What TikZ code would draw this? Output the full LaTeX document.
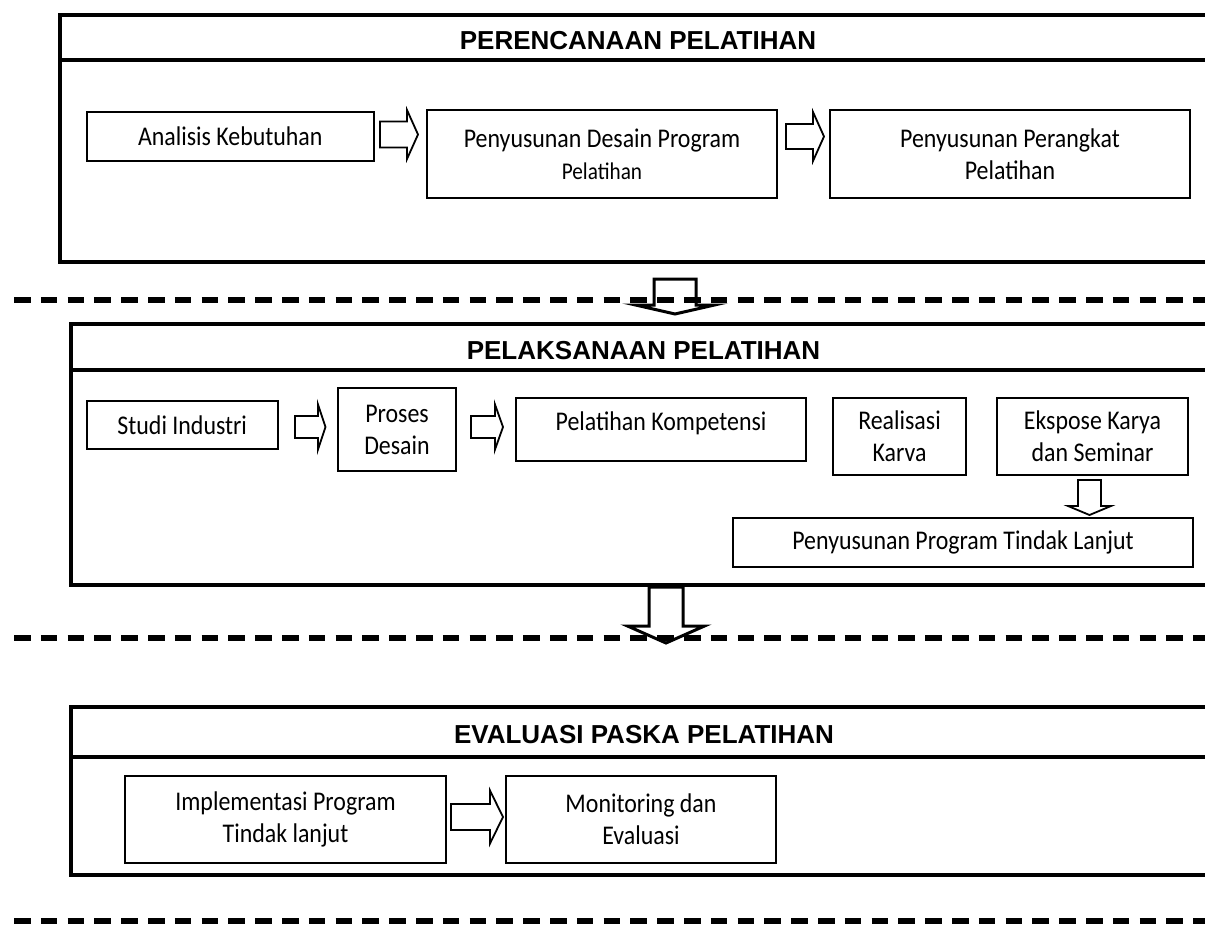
\documentclass[tikz,border=0pt]{standalone}
\usepackage{fontspec}
\newfontfamily\bodyf{Carlito}[FakeStretch=0.885]
\newfontfamily\titlef{Liberation Sans}
\usetikzlibrary{calc}
\tikzset{
 panel/.style={draw, line width=4pt, inner sep=0pt},
 divline/.style={line width=4pt},
 box/.style={draw, line width=2pt, inner sep=0pt, align=center, font=\bodyf\fontsize{27}{32}\selectfont},
 ttl/.style={font=\titlef\bfseries\fontsize{26}{30}\selectfont, inner sep=0pt},
 blk/.style={draw, line width=1.8pt, line join=miter},
 bigblk/.style={draw, line width=3pt, line join=miter},
 sepline/.style={line width=5.5pt, dash pattern=on 16.5pt off 10.3pt},
}
% right block arrow: style, start (left middle), length, shaft half, head half, head length
\newcommand\rblock[6]{\draw[#1] #2 ++(0,-#4) -- ++({#3-#6},0) -- ++(0,{#4-#5}) -- ++(#6,#5) -- ++(-#6,#5) -- ++(0,{#4-#5}) -- ++({#6-#3},0) -- cycle;}
% down block arrow: style, start (top middle), length, shaft half, head half, head length
\newcommand\dblock[6]{\draw[#1] #2 ++(-#4,0) -- ++(0,{#3-#6}) -- ++({#4-#5},0) -- ++(#5,#6) -- ++(#5,-#6) -- ++({#4-#5},0) -- ++(0,{#6-#3}) -- cycle;}
\begin{document}
\begin{tikzpicture}[x=1pt,y=-1pt]
\useasboundingbox (0,0) rectangle (1205,926);
\fill[white] (0,0) rectangle (1205,926);
\clip (0,0) rectangle (1205,926);

% dashed separators
\coordinate (d1a) at (14,300); \coordinate (d1b) at (1215,300);
\coordinate (d2a) at (14,638); \coordinate (d2b) at (1215,638);
\coordinate (d3a) at (14,921); \coordinate (d3b) at (1215,921);
\draw[sepline] (d1a) -- (d1b);
\draw[sepline] (d2a) -- (d2b);
\draw[sepline] (d3a) -- (d3b);

% panels
\node[panel, minimum width=1155pt, minimum height=247pt] (p1) at (637.5,138.5) {};
\draw[divline] ($(p1.north west)+(0,47)$) -- ($(p1.north east)+(0,47)$);
\node[ttl] (t1) at (638,41) {PERENCANAAN PELATIHAN};

\node[panel, minimum width=1144pt, minimum height=261pt] (p2) at (643,454.5) {};
\draw[divline] ($(p2.north west)+(0,48)$) -- ($(p2.north east)+(0,48)$);
\node[ttl] (t2) at (643.5,351) {PELAKSANAAN PELATIHAN};

\node[panel, minimum width=1144pt, minimum height=168pt] (p3) at (643,791) {};
\draw[divline] ($(p3.north west)+(0,52)$) -- ($(p3.north east)+(0,52)$);
\node[ttl] (t3) at (644,735) {EVALUASI PASKA PELATIHAN};

% panel 1 boxes
\node[box, minimum width=287.5pt, minimum height=49pt] (ana) at (230.25,136.5) {Analisis Kebutuhan};
\node[box, minimum width=350pt, minimum height=88pt] (des) at (602,154) {Penyusunan Desain Program\\{\fontsize{24}{28}\selectfont Pelatihan}};
\node[box, minimum width=360pt, minimum height=88pt] (per) at (1010,154) {Penyusunan Perangkat\\Pelatihan};

% panel 2 boxes
\node[box, minimum width=191.5pt, minimum height=48pt] (stu) at (182.25,425) {Studi Industri};
\node[box, minimum width=118pt, minimum height=83pt] (pro) at (397,429.5) {Proses\\Desain};
\node[box, minimum width=290pt, minimum height=63pt, text height=20pt, text depth=18pt] (kom) at (661,429.5) {Pelatihan Kompetensi};
\node[box, minimum width=133pt, minimum height=77pt] (rea) at (899.5,436.5) {Realisasi\\Karva};
\node[box, minimum width=191pt, minimum height=77pt] (eks) at (1092.5,436.5) {Ekspose Karya\\dan Seminar};
\node[box, minimum width=460pt, minimum height=49pt] (tin) at (963,542.5) {Penyusunan Program Tindak Lanjut};

% panel 3 boxes
\node[box, minimum width=321pt, minimum height=87pt] (imp) at (285.5,819.5) {Implementasi Program\\Tindak lanjut};
\node[box, minimum width=270pt, minimum height=87pt] (mon) at (641,819.5) {Monitoring dan\\Evaluasi};

% block arrows
\rblock{blk}{($(ana.east)+(5,-2)$)}{38}{13}{24.5}{11}
\rblock{blk}{($(des.east)+(8,-17.5)$)}{38}{12.5}{24.5}{11}
\rblock{blk}{($(stu.east)+(16,2)$)}{30.5}{11}{22.5}{7.5}
\rblock{blk}{($(pro.east)+(14,-2.5)$)}{32}{11}{22.5}{8}
\rblock{blk}{($(imp.east)+(4,-2.5)$)}{52}{13}{26.5}{13}
\dblock{blk}{($(eks.south)+(-3,4)$)}{35}{11.5}{21.5}{9}
\dblock{bigblk}{($(p1.south west)+(617,15)$)}{35}{21}{39.5}{9}
\dblock{bigblk}{($(p2.south west)+(597,0)$)}{56}{17}{38.5}{17}
\end{tikzpicture}
\end{document}
